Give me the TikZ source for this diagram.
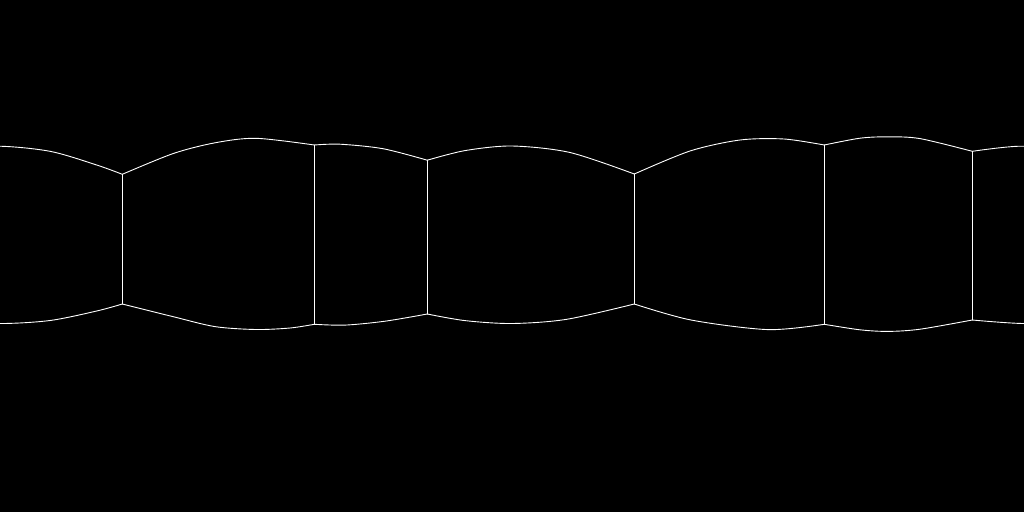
\documentclass[tikz,border=0pt]{standalone}
\begin{document}
\begin{tikzpicture}[x=1pt,y=-1pt,
  edge/.style={draw=white,line width=0.9pt,line join=round,line cap=round}]
\fill[black] (0,0) rectangle (1024,512);
\useasboundingbox (0,0) rectangle (1024,512);
\clip (0,0) rectangle (1024,512);
% vertices
\coordinate (t1) at (122.3,174.3);\coordinate (b1) at (122.3,304);
\coordinate (t2) at (314.3,145);  \coordinate (b2) at (314.3,324.3);
\coordinate (t3) at (427.3,160.2);\coordinate (b3) at (427.3,314);
\coordinate (t4) at (634.3,174);  \coordinate (b4) at (634.3,304);
\coordinate (t5) at (824.3,145);  \coordinate (b5) at (824.3,324.3);
\coordinate (t6) at (972.3,151.3);\coordinate (b6) at (972.3,320);
% verticals
\foreach \i in {1,...,6} { \draw[edge] (t\i) -- (b\i); }
% wall crossing the seam (drawn twice)
\foreach \s in {0,1024} {
  \begin{scope}[xshift=\s pt]
  \draw[edge] plot[smooth] coordinates {(-51.7,151.3) (-3,146.2) (50,151.3) (96.7,165) (122.3,174.3)};
  \draw[edge] plot[smooth] coordinates {(-51.7,320) (0,323.5) (50,320.5) (96.7,311) (122.3,304)};
  \end{scope}
}
% top edges
\draw[edge] plot[smooth] coordinates {(t1) (173.3,153.5) (215,142.8) (256,138.3) (t2)};
\draw[edge] plot[smooth] coordinates {(t2) (340,144.2) (383,148.7) (t3)};
\draw[edge] plot[smooth] coordinates {(t3) (465,150.6) (512,146) (570,152.5) (t4)};
\draw[edge] plot[smooth] coordinates {(t4) (690,151) (740,140) (784,139) (t5)};
\draw[edge] plot[smooth] coordinates {(t5) (860,138.2) (888,136.8) (920,138.6) (t6)};
% bottom edges
\draw[edge] plot[smooth] coordinates {(b1) (173.3,316.7) (215,326.6) (256,329.5) (290,328) (b2)};
\draw[edge] plot[smooth] coordinates {(b2) (345,325.1) (385,321.2) (b3)};
\draw[edge] plot[smooth] coordinates {(b3) (465,320.6) (512,323.5) (566.7,319.3) (b4)};
\draw[edge] plot[smooth] coordinates {(b4) (691,320) (768,329.6) (b5)};
\draw[edge] plot[smooth] coordinates {(b5) (860,329.8) (888,331.4) (920,329.2) (b6)};
\end{tikzpicture}
\end{document}
